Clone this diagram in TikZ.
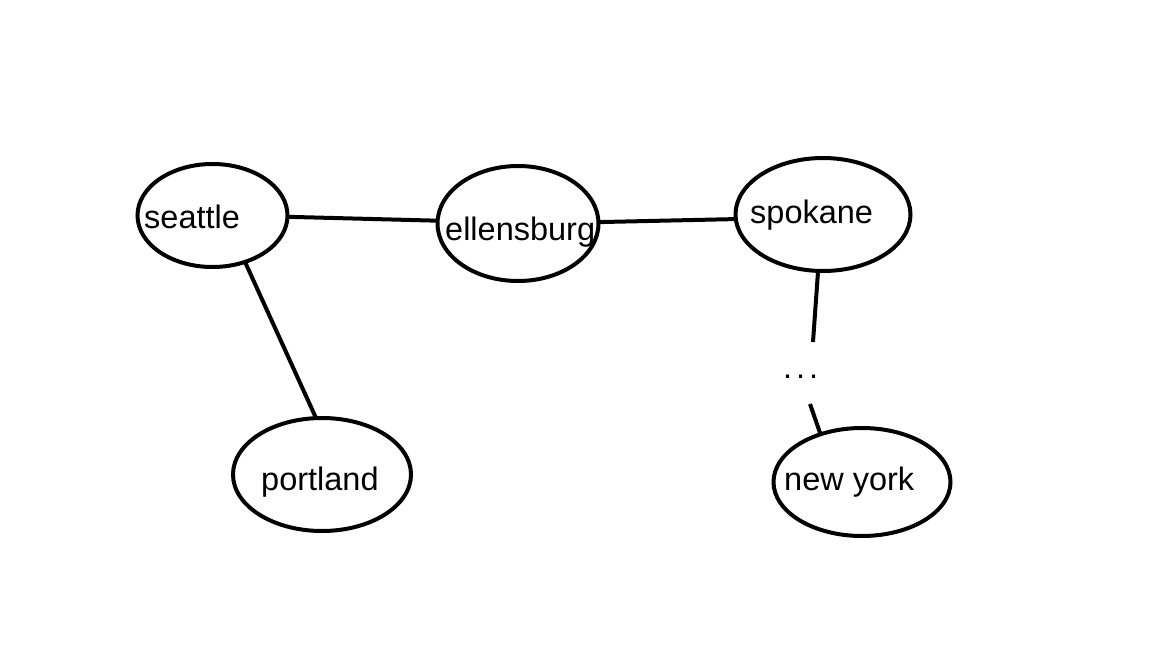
\documentclass[tikz,border=0pt]{standalone}
\usepackage{fontspec}
\setmainfont{Liberation Sans}
\usetikzlibrary{shapes.geometric}
\begin{document}
\begin{tikzpicture}[x=1pt,y=-1pt,
  city/.style={draw=black, line width=4pt, ellipse, inner sep=0pt, outer sep=0pt},
  lbl/.style={anchor=base west, inner sep=0pt, font=\fontsize{32.5}{39}\selectfont},
  link/.style={draw=black, line width=4pt}]
\fill[white] (0,0) rectangle (1152,648);
\useasboundingbox (0,0) rectangle (1152,648);
% cities
\node[city, minimum width=150pt, minimum height=103pt] (seattle) at (212.5,215.5) {};
\node[city, minimum width=161pt, minimum height=115pt] (ellensburg) at (518,223.5) {};
\node[city, minimum width=175pt, minimum height=113pt] (spokane) at (823,214.5) {};
\node[city, minimum width=178pt, minimum height=113pt] (portland) at (322,474.5) {};
\node[city, minimum width=177pt, minimum height=108pt] (newyork) at (862,482) {};
% labels
\node[lbl] (tseattle) at (144,228) {seattle};
\node[lbl] (tellensburg) at (445,240) {ellensburg};
\node[lbl] (tspokane) at (750,223) {spokane};
\node[lbl] (tportland) at (261,490) {portland};
\node[lbl] (tnewyork) at (784,490) {new york};
\node[lbl] (dots) at (783,378) {\addfontfeature{LetterSpace=12}...};
% free ends
\coordinate (gapA) at (813,342);
\coordinate (gapB) at (810,404);
% connectors
\draw[link] (seattle.-1) -- (ellensburg.178);
\draw[link] (ellensburg.1) -- (spokane.183);
\draw[link] (seattle.-55) -- (portland.96);
\draw[link] (spokane.-95) -- (gapA);
\draw[link] (gapB) -- (newyork.131);
\end{tikzpicture}
\end{document}
